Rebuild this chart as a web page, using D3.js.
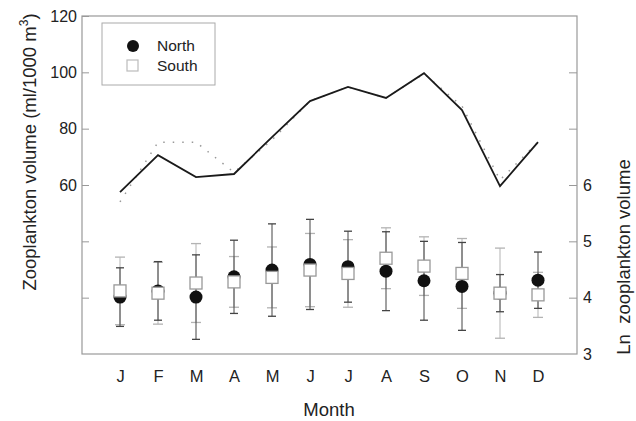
<!DOCTYPE html>
<html lang="en">
<head>
  <meta charset="UTF-8" />
  <title>Zooplankton volume by month</title>
  <style>
    body { margin: 0; background: #fff; font-family: "Liberation Sans", Arial, sans-serif; }
    .axis path { display: none; }
    .axis line { stroke: #999; }
    .axis text { font-size: 16px; fill: #222; }
    .title { font-size: 18.5px; fill: #222; }
  </style>
</head>
<body>
  <div id="chart"></div>
  <script src="https://d3js.org/d3.v7.min.js"></script>
  <script>
    // Data
    var months = ["J", "F", "M", "A", "M", "J", "J", "A", "S", "O", "N", "D"];
    var northVolume = [57.5, 70.6, 62.8, 63.9, 77, 89.8, 94.8, 90.9, 99.7, 86.6, 59.6, 75.2];
    var southVolume = [54, 75.2, 75.2, 64.5, 76, 89.8, 94.8, 90.9, 99.5, 88, 61.8, 75.2];
    var northLn = [4.01, 4.12, 4.01, 4.37, 4.49, 4.59, 4.55, 4.47, 4.30, 4.20, 4.08, 4.31];
    var northSd = [0.52, 0.52, 0.75, 0.65, 0.82, 0.80, 0.63, 0.70, 0.70, 0.78, 0.33, 0.50];
    var southLn = [4.12, 4.08, 4.26, 4.28, 4.36, 4.49, 4.43, 4.70, 4.56, 4.43, 4.08, 4.05];
    var southSd = [0.60, 0.55, 0.70, 0.45, 0.54, 0.65, 0.60, 0.54, 0.52, 0.62, 0.80, 0.40];
    var volTicks = [20, 40, 60, 80, 100, 120];
    var lnTicks = [3, 4, 5, 6, 7, 8];

    var W = 636, H = 421;
    var plotLeft = 82, plotRight = 577, plotTop = 16, plotBottom = 354;

    var svg = d3.select("#chart").append("svg")
      .attr("width", W).attr("height", H);

    var x = d3.scalePoint()
      .domain(d3.range(months.length))
      .range([120, 538]);

    var yVol = d3.scaleLinear().domain([0, 120]).range([plotBottom, plotTop]);
    var yLn = d3.scaleLinear().domain([3, 9]).range([plotBottom, plotTop]);

    // frame
    svg.append("rect")
      .attr("x", plotLeft).attr("y", plotTop)
      .attr("width", plotRight - plotLeft).attr("height", plotBottom - plotTop)
      .attr("fill", "none").attr("stroke", "#999").attr("stroke-width", 1.2);

    // left axis
    svg.append("g")
      .attr("class", "axis")
      .attr("transform", "translate(" + plotLeft + ",0)")
      .call(d3.axisLeft(yVol).tickValues(volTicks).tickSize(-7).tickPadding(5)
        .tickFormat(function(d) { return d >= 60 ? d : ""; }));

    // right axis
    svg.append("g")
      .attr("class", "axis")
      .attr("transform", "translate(" + plotRight + ",0)")
      .call(d3.axisRight(yLn).tickValues(lnTicks).tickSize(-8).tickPadding(6)
        .tickFormat(function(d) { return d <= 6 ? d : ""; }))
      .selectAll(".tick").filter(function(d) { return d === 3; }).select("line").remove();

    // month labels
    svg.append("g")
      .attr("class", "axis")
      .attr("transform", "translate(0," + plotBottom + ")")
      .call(d3.axisBottom(x).tickSize(0).tickPadding(16)
        .tickFormat(function(i) { return months[i]; }))
      .selectAll("text").style("font-size", "16.5px");

    // axis titles
    svg.append("text")
      .attr("class", "title")
      .attr("transform", "translate(36," + 152 + ") rotate(-90)")
      .attr("text-anchor", "middle")
      .html("Zooplankton volume (ml/1000 m<tspan dy='-8' font-size='12px'>3</tspan><tspan dy='8'>)</tspan>");

    svg.append("text")
      .attr("class", "title")
      .attr("transform", "translate(630," + 257 + ") rotate(-90)")
      .attr("text-anchor", "middle")
      .attr("xml:space", "preserve")
      .text("Ln  zooplankton volume");

    svg.append("text")
      .attr("class", "title")
      .attr("x", 329).attr("y", 416)
      .attr("text-anchor", "middle")
      .text("Month");

    // volume lines
    var line = d3.line()
      .x(function(d, i) { return x(i); })
      .y(function(d) { return yVol(d); });

    svg.append("path")
      .datum(southVolume)
      .attr("d", line)
      .attr("fill", "none")
      .attr("stroke", "#999")
      .attr("stroke-width", 1.5)
      .attr("stroke-dasharray", "1.5,8");

    svg.append("path")
      .datum(northVolume)
      .attr("d", line)
      .attr("fill", "none")
      .attr("stroke", "#1a1a1a")
      .attr("stroke-width", 1.8);

    // error bars
    function errorBars(mean, sd, color, cap, w) {
      var g = svg.append("g").selectAll("g")
        .data(mean).enter().append("g");
      g.append("line")
        .attr("x1", function(d, i) { return x(i); })
        .attr("x2", function(d, i) { return x(i); })
        .attr("y1", function(d, i) { return yLn(d - sd[i]); })
        .attr("y2", function(d, i) { return yLn(d + sd[i]); })
        .attr("stroke", color).attr("stroke-width", w);
      [-1, 1].forEach(function(s) {
        g.append("line")
          .attr("x1", function(d, i) { return x(i) - cap; })
          .attr("x2", function(d, i) { return x(i) + cap; })
          .attr("y1", function(d, i) { return yLn(d + s * sd[i]); })
          .attr("y2", function(d, i) { return yLn(d + s * sd[i]); })
          .attr("stroke", color).attr("stroke-width", w + 0.3);
      });
    }
    errorBars(southLn, southSd, "#b3b3b3", 5, 1);
    errorBars(northLn, northSd, "#444", 4, 1);

    // points
    svg.append("g").selectAll("circle")
      .data(northLn).enter().append("circle")
      .attr("cx", function(d, i) { return x(i); })
      .attr("cy", function(d) { return yLn(d); })
      .attr("r", 6.5)
      .attr("fill", "#111");

    svg.append("g").selectAll("rect")
      .data(southLn).enter().append("rect")
      .attr("x", function(d, i) { return x(i) - 6; })
      .attr("y", function(d) { return yLn(d) - 6; })
      .attr("width", 12).attr("height", 12)
      .attr("fill", "#fff")
      .attr("stroke", "#999").attr("stroke-width", 1.3);

    // legend
    var lg = svg.append("g");
    lg.append("rect")
      .attr("x", 102).attr("y", 23).attr("width", 113).attr("height", 62)
      .attr("fill", "#fff").attr("stroke", "#aaa").attr("stroke-width", 1);
    lg.append("circle").attr("cx", 133).attr("cy", 46).attr("r", 6).attr("fill", "#111");
    lg.append("rect").attr("x", 127).attr("y", 60).attr("width", 11).attr("height", 11)
      .attr("fill", "#fff").attr("stroke", "#bbb").attr("stroke-width", 1.2);
    lg.append("text").attr("x", 157).attr("y", 51).style("font-size", "15.5px").attr("fill", "#222").text("North");
    lg.append("text").attr("x", 157).attr("y", 71).style("font-size", "15.5px").attr("fill", "#222").text("South");
  </script>
</body>
</html>
